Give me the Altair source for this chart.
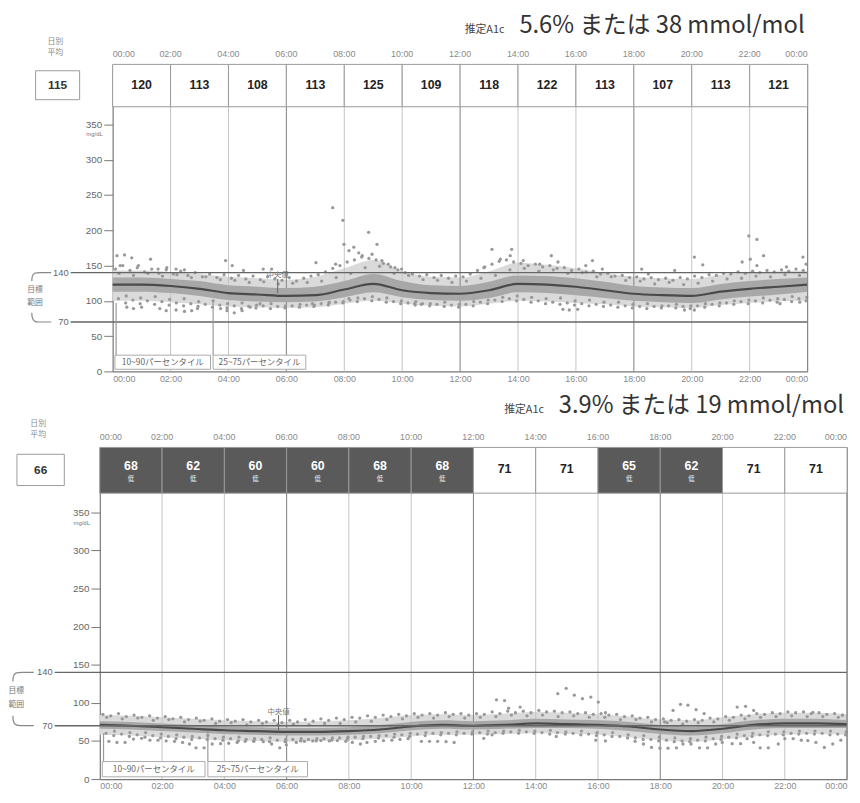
import altair as alt
import pandas as pd

# ---------------- data ----------------
HOURS = list(range(25))
TIME_TICKS = list(range(0, 25, 2))
Y_TICKS = [0, 50, 100, 150, 200, 250, 300, 350]
TARGET = [70, 140]

TOP_A1C_PCT, TOP_A1C_MMOL = "5.6%", "38"
BOT_A1C_PCT, BOT_A1C_MMOL = "3.9%", "19"
TOP_DAILY_AVG = 115
BOT_DAILY_AVG = 66
TOP_HEADER = [120, 113, 108, 113, 125, 109, 118, 122, 113, 107, 113, 121]
TOP_HEADER_LOW = [0, 0, 0, 0, 0, 0, 0, 0, 0, 0, 0, 0]
BOT_HEADER = [68, 62, 60, 60, 68, 68, 71, 71, 65, 62, 71, 71]
BOT_HEADER_LOW = [1, 1, 1, 1, 1, 1, 0, 0, 1, 1, 0, 0]

TOP_P10 = [100, 100, 98, 95, 92, 91, 90, 91, 96, 100, 96, 93, 92, 96, 100, 99, 97, 95, 92, 91, 90, 94, 97, 99, 100]
TOP_P25 = [113, 113, 111, 107, 101, 99, 98, 99, 105, 112, 105, 101, 100, 104, 112, 111, 108, 104, 100, 98, 97, 102, 106, 109, 113]
TOP_P50 = [123, 123, 121, 117, 111, 109, 107, 108, 116, 124, 115, 111, 110, 115, 124, 123, 120, 115, 110, 108, 107, 113, 117, 120, 123]
TOP_P75 = [133, 133, 131, 128, 122, 120, 118, 120, 128, 138, 128, 122, 121, 127, 136, 135, 132, 127, 121, 119, 118, 124, 128, 131, 133]
TOP_P90 = [143, 143, 141, 138, 134, 132, 130, 134, 146, 158, 142, 134, 133, 142, 154, 151, 146, 139, 134, 132, 131, 137, 140, 142, 143]

BOT_P10 = [58, 57, 55, 53, 51, 50, 49, 50, 51, 53, 56, 58, 58, 59, 60, 59, 58, 55, 51, 49, 52, 56, 58, 59, 58]
BOT_P25 = [66, 65, 63, 61, 59, 58, 57, 57, 58, 60, 64, 66, 65, 66, 67, 67, 66, 63, 59, 57, 60, 65, 67, 67, 67]
BOT_P50 = [71, 70, 68, 66, 64, 63, 62, 62, 63, 65, 69, 71, 70, 71, 73, 72, 71, 69, 65, 63, 66, 71, 73, 73, 72]
BOT_P75 = [76, 75, 73, 71, 69, 68, 67, 67, 68, 71, 75, 77, 76, 77, 79, 78, 77, 75, 71, 69, 72, 77, 79, 79, 77]
BOT_P90 = [84, 83, 81, 79, 77, 76, 75, 76, 77, 80, 84, 85, 84, 86, 88, 87, 85, 82, 78, 77, 81, 85, 87, 87, 85]

TOP_DOTS = [
    [0.10, 145], [0.35, 150], [0.60, 143], [0.85, 147], [1.10, 141], [1.35, 145], [1.60, 139], [1.85, 144],
    [2.10, 138], [2.35, 142], [2.60, 136], [2.85, 140], [3.10, 134], [3.35, 138], [3.60, 133], [3.85, 137],
    [4.10, 132], [4.35, 136], [4.60, 131], [4.85, 135], [5.10, 130], [5.35, 134], [5.60, 131], [5.85, 129],
    [6.10, 133], [6.35, 128], [6.60, 132], [6.85, 135], [7.10, 137], [7.35, 141], [7.60, 146], [7.85, 150],
    [8.10, 155], [8.35, 158], [8.60, 162], [8.85, 160], [9.10, 158], [9.35, 153], [9.60, 148], [9.85, 144],
    [10.10, 140], [10.35, 138], [10.60, 135], [10.85, 137], [11.10, 133], [11.35, 136], [11.60, 132], [11.85, 135],
    [12.10, 134], [12.35, 138], [12.60, 143], [12.85, 148], [13.10, 152], [13.35, 156], [13.60, 158], [13.85, 155],
    [14.10, 153], [14.35, 150], [14.60, 152], [14.85, 148], [15.10, 150], [15.35, 146], [15.60, 147], [15.85, 143],
    [16.10, 145], [16.35, 141], [16.60, 142], [16.85, 138], [17.10, 139], [17.35, 135], [17.60, 136], [17.85, 133],
    [18.10, 134], [18.35, 131], [18.60, 133], [18.85, 130], [19.10, 132], [19.35, 129], [19.60, 133], [19.85, 131],
    [20.10, 135], [20.35, 133], [20.60, 137], [20.85, 136], [21.10, 139], [21.35, 138], [21.60, 141], [21.85, 139],
    [22.10, 142], [22.35, 140], [22.60, 143], [22.85, 141], [23.10, 144], [23.35, 142], [23.60, 145], [23.85, 143],
    [0.20, 103], [0.45, 97], [0.70, 101], [0.95, 96], [1.20, 100], [1.45, 95], [1.70, 99], [1.95, 94],
    [2.20, 97], [2.45, 93], [2.70, 96], [2.95, 92], [3.20, 95], [3.45, 91], [3.70, 94], [3.95, 90],
    [4.20, 93], [4.45, 89], [4.70, 92], [4.95, 90], [5.20, 93], [5.45, 89], [5.70, 92], [5.95, 90],
    [6.20, 93], [6.45, 91], [6.70, 94], [6.95, 92], [7.20, 96], [7.45, 94], [7.70, 98], [7.95, 97],
    [8.20, 101], [8.45, 99], [8.70, 103], [8.95, 100], [9.20, 102], [9.45, 98], [9.70, 99], [9.95, 96],
    [10.20, 97], [10.45, 94], [10.70, 96], [10.95, 93], [11.20, 95], [11.45, 92], [11.70, 94], [11.95, 91],
    [12.20, 95], [12.45, 93], [12.70, 98], [12.95, 96], [13.20, 101], [13.45, 99], [13.70, 103], [13.95, 100],
    [14.20, 102], [14.45, 98], [14.70, 100], [14.95, 96], [15.20, 98], [15.45, 95], [15.70, 97], [15.95, 94],
    [16.20, 96], [16.45, 93], [16.70, 95], [16.95, 92], [17.20, 94], [17.45, 91], [17.70, 93], [17.95, 90],
    [18.20, 92], [18.45, 89], [18.70, 92], [18.95, 90], [19.20, 93], [19.45, 90], [19.70, 92], [19.95, 89],
    [20.20, 93], [20.45, 91], [20.70, 95], [20.95, 93], [21.20, 97], [21.45, 95], [21.70, 99], [21.95, 96],
    [22.20, 100], [22.45, 97], [22.70, 101], [22.95, 98], [23.20, 102], [23.45, 99], [23.70, 103], [23.95, 100],
    [0.15, 164], [0.41, 165], [0.66, 161], [0.26, 150], [0.89, 150], [1.31, 159], [1.57, 145], [1.87, 147],
    [2.19, 145], [2.48, 144], [3.90, 157], [4.13, 150], [4.52, 143], [5.20, 145], [5.49, 145],
    [0.49, 91], [0.72, 89], [1.00, 91], [1.63, 89], [1.85, 86], [2.19, 87], [2.48, 85], [2.73, 86],
    [2.93, 89], [3.73, 89], [3.95, 86], [4.20, 83], [4.47, 86], [4.75, 91], [5.09, 96],
    [7.02, 154], [7.70, 152], [7.99, 180], [8.16, 171], [8.33, 176], [8.50, 168], [8.62, 164], [8.84, 197],
    [9.13, 180], [8.96, 166], [9.30, 157], [9.52, 152], [9.75, 147], [9.98, 145], [7.60, 232], [7.95, 214],
    [6.90, 96], [7.48, 98], [8.16, 103], [10.43, 96], [10.66, 95],
    [13.10, 173], [13.78, 173], [13.73, 164], [12.82, 147], [13.39, 159], [14.18, 157], [14.75, 152], [15.15, 164],
    [15.38, 155], [16.34, 150], [16.57, 157], [16.91, 145], [18.27, 145], [18.50, 138], [19.41, 143], [20.09, 162],
    [20.38, 151], [21.97, 192], [22.25, 187], [22.48, 164], [21.74, 155], [22.02, 159], [22.25, 150], [23.27, 148],
    [23.84, 162], [23.95, 152],
    [15.55, 88], [15.77, 87], [16.06, 88], [19.75, 87], [20.09, 87], [23.05, 96], [23.73, 98],
]

TOP_DOTS_MID = [
    [0.22, 139], [0.72, 136], [1.22, 139], [1.72, 135], [2.22, 137], [2.72, 133], [3.22, 134], [3.72, 130],
    [4.22, 129], [4.72, 126], [5.22, 127], [5.72, 124], [6.22, 125], [6.72, 126], [7.22, 128], [7.72, 133],
    [8.22, 139], [8.72, 147], [9.22, 149], [9.72, 139], [10.22, 136], [10.72, 130], [11.22, 129], [11.72, 126],
    [12.22, 128], [12.72, 132], [13.22, 136], [13.72, 144], [14.22, 146], [14.72, 142], [15.22, 144], [15.72, 139],
    [16.22, 140], [16.72, 134], [17.22, 134], [17.72, 129], [18.22, 128], [18.72, 124], [19.22, 126], [19.72, 123],
    [20.22, 125], [20.72, 128], [21.22, 131], [21.72, 132], [22.22, 135], [22.72, 134], [23.22, 137], [23.72, 136],
    [0.47, 107], [0.97, 104], [1.47, 106], [1.97, 102], [2.47, 103], [2.97, 99], [3.47, 100], [3.97, 96],
    [4.47, 97], [4.97, 94], [5.47, 96], [5.97, 93], [6.47, 95], [6.97, 94], [7.47, 97], [7.97, 99],
    [8.47, 104], [8.97, 106], [9.47, 104], [9.97, 100], [10.47, 99], [10.97, 96], [11.47, 98], [11.97, 95],
    [12.47, 99], [12.97, 101], [13.47, 105], [13.97, 107], [14.47, 105], [14.97, 103], [15.47, 104], [15.97, 100],
    [16.47, 101], [16.97, 98], [17.47, 98], [17.97, 95], [18.47, 96], [18.97, 93], [19.47, 95], [19.97, 93],
    [20.47, 96], [20.97, 97], [21.47, 100], [21.97, 101], [22.47, 104], [22.97, 103], [23.47, 106], [23.97, 105],
]

BOT_DOTS = [
    [0.10, 85], [0.35, 83], [0.60, 86], [0.85, 82], [1.10, 84], [1.35, 81], [1.60, 83], [1.85, 80],
    [2.10, 82], [2.35, 79], [2.60, 81], [2.85, 78], [3.10, 80], [3.35, 77], [3.60, 79], [3.85, 76],
    [4.10, 78], [4.35, 76], [4.60, 78], [4.85, 75], [5.10, 77], [5.35, 75], [5.60, 77], [5.85, 74],
    [6.10, 77], [6.35, 75], [6.60, 78], [6.85, 76], [7.10, 79], [7.35, 77], [7.60, 80], [7.85, 78],
    [8.10, 81], [8.35, 80], [8.60, 83], [8.85, 81], [9.10, 84], [9.35, 82], [9.60, 85], [9.85, 83],
    [10.10, 86], [10.35, 84], [10.60, 86], [10.85, 84], [11.10, 87], [11.35, 85], [11.60, 86], [11.85, 84],
    [12.10, 86], [12.35, 85], [12.60, 88], [12.85, 86], [13.10, 89], [13.35, 87], [13.60, 89], [13.85, 87],
    [14.10, 90], [14.35, 88], [14.60, 89], [14.85, 87], [15.10, 88], [15.35, 86], [15.60, 87], [15.85, 85],
    [16.10, 86], [16.35, 84], [16.60, 85], [16.85, 82], [17.10, 83], [17.35, 80], [17.60, 81], [17.85, 78],
    [18.10, 79], [18.35, 77], [18.60, 78], [18.85, 76], [19.10, 78], [19.35, 77], [19.60, 80], [19.85, 79],
    [20.10, 82], [20.35, 81], [20.60, 84], [20.85, 83], [21.10, 86], [21.35, 85], [21.60, 87], [21.85, 86],
    [22.10, 88], [22.35, 87], [22.60, 88], [22.85, 86], [23.10, 87], [23.35, 85], [23.60, 86], [23.85, 84],
    [0.20, 60], [0.45, 57], [0.70, 59], [0.95, 56], [1.20, 58], [1.45, 55], [1.70, 57], [1.95, 54],
    [2.20, 56], [2.45, 53], [2.70, 55], [2.95, 52], [3.20, 54], [3.45, 52], [3.70, 53], [3.95, 51],
    [4.20, 53], [4.45, 50], [4.70, 52], [4.95, 50], [5.20, 52], [5.45, 49], [5.70, 51], [5.95, 49],
    [6.20, 52], [6.45, 50], [6.70, 52], [6.95, 50], [7.20, 53], [7.45, 51], [7.70, 54], [7.95, 52],
    [8.20, 55], [8.45, 53], [8.70, 56], [8.95, 54], [9.20, 57], [9.45, 55], [9.70, 58], [9.95, 56],
    [10.20, 59], [10.45, 57], [10.70, 60], [10.95, 58], [11.20, 60], [11.45, 58], [11.70, 60], [11.95, 59],
    [12.20, 61], [12.45, 59], [12.70, 61], [12.95, 60], [13.20, 62], [13.45, 60], [13.70, 62], [13.95, 60],
    [14.20, 61], [14.45, 59], [14.70, 61], [14.95, 59], [15.20, 60], [15.45, 58], [15.70, 59], [15.95, 57],
    [16.20, 58], [16.45, 56], [16.70, 56], [16.95, 54], [17.20, 54], [17.45, 52], [17.70, 52], [17.95, 50],
    [18.20, 51], [18.45, 49], [18.70, 50], [18.95, 49], [19.20, 51], [19.45, 50], [19.70, 53], [19.95, 52],
    [20.20, 55], [20.45, 54], [20.70, 57], [20.95, 56], [21.20, 58], [21.45, 57], [21.70, 59], [21.95, 58],
    [22.20, 60], [22.45, 59], [22.70, 60], [22.95, 59], [23.20, 60], [23.45, 58], [23.70, 59], [23.95, 58],
    [0.29, 49.5], [0.55, 48], [0.81, 48], [1.08, 52.5], [1.34, 53.5], [1.61, 51], [1.87, 51], [2.13, 50],
    [2.40, 49.5], [2.66, 48], [2.88, 46], [3.09, 41], [3.35, 41], [3.61, 46], [3.88, 46.5], [4.14, 47],
    [4.41, 48], [4.67, 49.5], [4.94, 49.5], [5.25, 49], [5.52, 46], [5.78, 41], [5.99, 45], [6.31, 48],
    [6.57, 49.5], [6.84, 50], [7.10, 50.5], [7.37, 50], [7.63, 50.5], [7.90, 49.5], [8.11, 48], [8.37, 46],
    [8.58, 48], [8.85, 49.5], [9.11, 50.5], [9.38, 51], [9.64, 52], [9.90, 53], [10.33, 49.5],
    [10.59, 49.5], [10.85, 49.5], [11.12, 49], [11.38, 48], [12.33, 53.5], [12.60, 58], [14.66, 56],
    [15.93, 51], [16.24, 50], [17.19, 49.5], [17.46, 46], [17.72, 41.5], [17.99, 40.5], [18.25, 40.5],
    [18.52, 41], [18.73, 46], [18.99, 46], [19.26, 41], [19.52, 41], [19.78, 46], [19.99, 48], [20.31, 46.5],
    [20.58, 46.5], [20.79, 53], [21.00, 48], [21.21, 41], [21.47, 41], [21.79, 46], [22.00, 53], [22.27, 53],
    [22.53, 51], [22.74, 50.5], [23.00, 48], [23.27, 41.5], [23.54, 46], [23.80, 51],
    [12.74, 104], [13.00, 103], [13.13, 93], [13.50, 94.5], [14.71, 112], [14.98, 119], [15.24, 110],
    [15.50, 105.5], [15.77, 107.5], [16.01, 101], [16.24, 87], [18.14, 75], [18.41, 90], [18.65, 98],
    [18.89, 97], [19.15, 91], [19.41, 86], [20.47, 94.5], [20.74, 95.5], [21.00, 90], [22.90, 87.5], [23.85, 84],
]

BOT_DOTS_MID = [
    [0.22, 81], [0.72, 79], [1.22, 80], [1.72, 77], [2.22, 78], [2.72, 75], [3.22, 76], [3.72, 73],
    [4.22, 74], [4.72, 71], [5.22, 73], [5.72, 71], [6.22, 72], [6.72, 71], [7.22, 73], [7.72, 73],
    [8.22, 75], [8.72, 76], [9.22, 78], [9.72, 79], [10.22, 81], [10.72, 80], [11.22, 82], [11.72, 80],
    [12.22, 81], [12.72, 82], [13.22, 84], [13.72, 83], [14.22, 84], [14.72, 82], [15.22, 83], [15.72, 81],
    [16.22, 81], [16.72, 78], [17.22, 78], [17.72, 75], [18.22, 74], [18.72, 72], [19.22, 74], [19.72, 75],
    [20.22, 77], [20.72, 79], [21.22, 81], [21.72, 82], [22.22, 83], [22.72, 82], [23.22, 82], [23.72, 81],
    [0.47, 63], [0.97, 61], [1.47, 61], [1.97, 59], [2.47, 58], [2.97, 56], [3.47, 57], [3.97, 55],
    [4.47, 55], [4.97, 53], [5.47, 54], [5.97, 52], [6.47, 53], [6.97, 53], [7.47, 54], [7.97, 55],
    [8.47, 56], [8.97, 57], [9.47, 59], [9.97, 60], [10.47, 61], [10.97, 61], [11.47, 62], [11.97, 62],
    [12.47, 63], [12.97, 63], [13.47, 64], [13.97, 63], [14.47, 64], [14.97, 62], [15.47, 63], [15.97, 61],
    [16.47, 61], [16.97, 58], [17.47, 57], [17.97, 55], [18.47, 54], [18.97, 53], [19.47, 55], [19.97, 56],
    [20.47, 59], [20.97, 60], [21.47, 62], [21.97, 62], [22.47, 63], [22.97, 63], [23.47, 63], [23.97, 62],
]

# ---------------- layout constants ----------------
YMAX = 435
HEAD_LO, HEAD_HI = 375, 435
NUMFONT = "Liberation Sans"
JPFONT = "Noto Sans CJK JP"
PANEL_W = 757


def panel(pc, dots, header, low, avg, pct, mmol, height, xrange, yoff, med, ptr):
    xs = alt.Scale(domain=[0, 24], range=xrange, nice=False, zero=False)
    ys = alt.Scale(domain=[0, YMAX], nice=False, zero=False)

    def X(f):
        return alt.X(f, scale=xs)

    def Y(f):
        return alt.Y(f, scale=ys)

    def txt(rows, **kw):
        df = pd.DataFrame(rows, columns=["h", "v", "t"])
        return alt.Chart(df).mark_text(**kw).encode(x=X("h:Q"), y=Y("v:Q"), text="t:N")

    def rect(rows, **kw):
        df = pd.DataFrame(rows, columns=["x0", "x1", "y0", "y1"])
        return alt.Chart(df).mark_rect(**kw).encode(x=X("x0:Q"), x2="x1:Q", y=Y("y0:Q"), y2="y1:Q")

    def vrule(rows, **kw):
        df = pd.DataFrame(rows, columns=["h", "y0", "y1"])
        return alt.Chart(df).mark_rule(**kw).encode(x=X("h:Q"), y=Y("y0:Q"), y2="y1:Q")

    def hrule(rows, **kw):
        df = pd.DataFrame(rows, columns=["x0", "x1", "v"])
        return alt.Chart(df).mark_rule(**kw).encode(x=X("x0:Q"), x2="x1:Q", y=Y("v:Q"))

    p10, p25, p50, p75, p90 = pc
    band = pd.DataFrame(dict(h=HOURS, p10=p10, p25=p25, p50=p50, p75=p75, p90=p90))

    x_axis = alt.Axis(values=TIME_TICKS,
                      labelExpr="(datum.value % 24 < 10 ? '0' : '') + (datum.value % 24) + ':00'",
                      ticks=False, domainColor="#777", domainWidth=1.2, labelColor="#8a8a8a",
                      labelFontSize=9, labelFont=NUMFONT, labelPadding=3, grid=False,
                      title=None, labelFlush=True)
    y_axis = alt.Axis(values=Y_TICKS, tickSize=9, tickColor="#777", domainColor="#777",
                      domainWidth=1.2, labelColor="#666", labelFontSize=10, labelFont=NUMFONT,
                      labelPadding=2, grid=False, title=None, offset=yoff)

    layers = []
    # bands (carry the axes)
    layers.append(alt.Chart(band).mark_area(color="#dadada", interpolate="monotone").encode(
        x=alt.X("h:Q", scale=xs, axis=x_axis),
        y=alt.Y("p10:Q", scale=ys, axis=y_axis), y2="p90:Q"))
    # grid
    layers.append(vrule([[h, 0, HEAD_HI] for h in TIME_TICKS if 0 < h < 24 and h % 6 != 0],
                        color="#c4c4c4", strokeWidth=1))
    layers.append(vrule([[h, 0, HEAD_HI] for h in TIME_TICKS if h > 0 and h % 6 == 0],
                        color="#8a8a8a", strokeWidth=1.1))
    layers.append(alt.Chart(band).mark_area(color="#a8a8a8", interpolate="monotone").encode(
        x=X("h:Q"), y=Y("p25:Q"), y2="p75:Q"))
    # dots
    layers.append(alt.Chart(pd.DataFrame(dots, columns=["h", "v"])).mark_circle(
        size=11, color="#999999", opacity=1).encode(x=X("h:Q"), y=Y("v:Q")))
    # median
    layers.append(alt.Chart(band).mark_line(color="#4a4a4a", strokeWidth=2.2,
                                            interpolate="monotone").encode(x=X("h:Q"), y=Y("p50:Q")))
    # target range lines
    layers.append(hrule([[-1.45, 24, v] for v in TARGET], color="#666", strokeWidth=1.4))
    layers.append(txt([[-1.45, v, str(v)] for v in TARGET], align="right", baseline="middle",
                      dx=-2, fontSize=9.5, font=NUMFONT, color="#666"))
    # bracket
    br = pd.DataFrame([
        [-2.12, 140, "a", 0], [-2.50, 140, "a", 1], [-2.72, 140, "a", 2], [-2.79, 134, "a", 3], [-2.79, 128, "a", 4],
        [-2.79, 83, "b", 0], [-2.79, 77, "b", 1], [-2.72, 70, "b", 2], [-2.50, 70, "b", 3], [-2.12, 70, "b", 4],
    ], columns=["h", "v", "g", "o"])
    layers.append(alt.Chart(br).mark_line(color="#888", strokeWidth=1.2, interpolate="basis").encode(
        x=X("h:Q"), y=Y("v:Q"), detail="g:N", order="o:Q"))
    layers.append(txt([[-2.68, 115, "目標"], [-2.68, 97, "範囲"]], align="center", baseline="middle",
                      fontSize=8, font=JPFONT, color="#777"))
    # right border
    layers.append(vrule([[24, 0, HEAD_HI]], color="#888", strokeWidth=1.1))
    # header cells
    hdr = pd.DataFrame(dict(
        s=TIME_TICKS[:-1], e=TIME_TICKS[1:], m=[h + 1 for h in TIME_TICKS[:-1]],
        t=[str(v) for v in header], low=low,
        lo=[HEAD_LO] * len(header), hi=[HEAD_HI] * len(header),
        fill=["#5a5a5a" if l else "#ffffff" for l in low],
        tc=["#ffffff" if l else "#222222" for l in low],
        ty=[410 if l else 406 for l in low]))
    layers.append(alt.Chart(hdr).mark_rect(stroke="#999", strokeWidth=1).encode(
        x=X("s:Q"), x2="e:Q", y=Y("lo:Q"), y2="hi:Q",
        fill=alt.Fill("fill:N", scale=None)))
    layers.append(alt.Chart(hdr).mark_text(fontSize=12.5, fontWeight="bold", font=NUMFONT,
                                           baseline="middle").encode(
        x=X("m:Q"), y=Y("ty:Q"), text="t:N", color=alt.Color("tc:N", scale=None)))
    lows = [[TIME_TICKS[i] + 1, 393, "低"] for i, l in enumerate(low) if l]
    if lows:
        layers.append(txt(lows, fontSize=6.5, font=JPFONT, color="#eeeeee", baseline="middle"))
    # top time labels
    layers.append(txt([[0, 449, "00:00"]], align="left", baseline="middle", fontSize=9,
                      font=NUMFONT, color="#8a8a8a"))
    layers.append(txt([[h, 449, f"{h:02d}:00"] for h in TIME_TICKS[1:-1]], align="center",
                      baseline="middle", fontSize=9, font=NUMFONT, color="#8a8a8a"))
    layers.append(txt([[24, 449, "00:00"]], align="right", baseline="middle", fontSize=9,
                      font=NUMFONT, color="#8a8a8a"))
    # daily average box
    layers.append(rect([[-2.66, -1.14, 385, 426]], fill="#ffffff", stroke="#999", strokeWidth=1))
    layers.append(txt([[-1.9, 405.5, str(avg)]], align="center", baseline="middle", fontSize=12,
                      fontWeight="bold", font=NUMFONT, color="#333"))
    layers.append(txt([[-1.98, 466, "日別"], [-1.98, 451, "平均"]], align="center", baseline="middle",
                      fontSize=8, font=JPFONT, color="#8a8a8a"))
    # mg/dL
    layers.append(txt([[0, 336, "mg/dL"]], align="right", baseline="middle", dx=-10, fontSize=6,
                      font=NUMFONT, color="#777"))
    # legend boxes + pointers
    layers.append(vrule([[0.12, 23, ptr[0]], [3.47, 23, ptr[1]]], color="#999", strokeWidth=1.2))
    layers.append(rect([[0.08, 3.38, 3, 23], [3.47, 6.67, 3, 23]], fill="#ffffff", stroke="#aaa",
                       strokeWidth=1))
    layers.append(txt([[1.73, 13, "10~90パーセンタイル"], [5.07, 13, "25~75パーセンタイル"]],
                      align="center", baseline="middle", fontSize=8.5, font=JPFONT, color="#666"))
    # median label
    layers.append(vrule([[med[0], med[2], med[3]]], color="#666", strokeWidth=1))
    layers.append(txt([[med[0], med[1], "中央値"]], align="center", baseline="middle", fontSize=7.5,
                      font=JPFONT, color="#777"))
    # title
    layers.append(txt([[24, 480, f"{pct} または {mmol} mmol/mol"]], align="right",
                      baseline="alphabetic", dx=-3, fontSize=24, font=JPFONT, color="#333"))
    layers.append(txt([[24, 480, "推定A1c"]], align="right", baseline="alphabetic", dx=-307,
                      fontSize=11, font=JPFONT, color="#444"))

    return alt.layer(*layers).properties(width=PANEL_W, height=height)


top = panel((TOP_P10, TOP_P25, TOP_P50, TOP_P75, TOP_P90), TOP_DOTS + TOP_DOTS_MID, TOP_HEADER,
            TOP_HEADER_LOW, TOP_DAILY_AVG, TOP_A1C_PCT, TOP_A1C_MMOL, 311, [13, 717], -13,
            (5.7, 136, 131, 111), (97, 100))
bot = panel((BOT_P10, BOT_P25, BOT_P50, BOT_P75, BOT_P90), BOT_DOTS + BOT_DOTS_MID, BOT_HEADER,
            BOT_HEADER_LOW, BOT_DAILY_AVG, BOT_A1C_PCT, BOT_A1C_MMOL, 336, [0, PANEL_W], 0,
            (5.74, 88, 84, 64), (60, 63))

chart = alt.vconcat(top, bot, spacing=11, padding=0).configure_view(stroke=None)
chart.save("out.html", embed_options={"renderer": "svg", "actions": False})
